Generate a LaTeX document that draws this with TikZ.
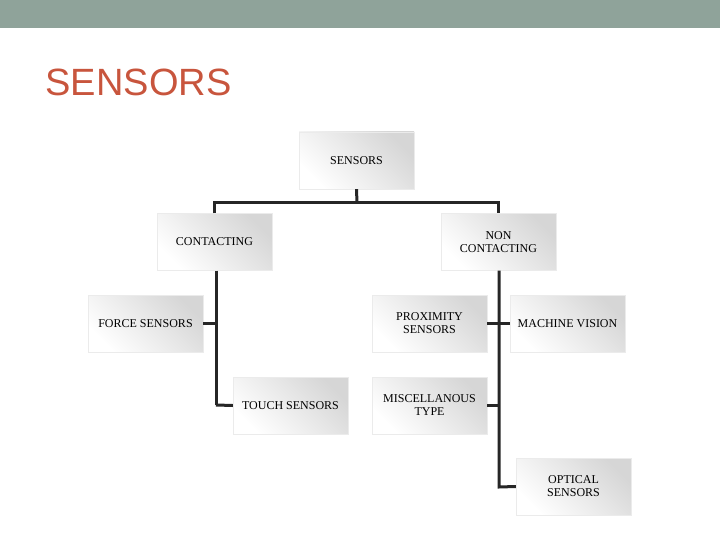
\documentclass[tikz,border=0pt]{standalone}
\usepackage{fontspec}
\setmainfont{Liberation Serif}
\newfontfamily\titlefont{Liberation Sans}
\definecolor{barc}{HTML}{8FA39A}
\definecolor{titc}{HTML}{C8553D}
\begin{document}
\begin{tikzpicture}[x=1pt,y=-1pt,
  bx/.style={minimum width=115pt,minimum height=57pt,inner sep=0pt,align=center,
    font=\fontsize{12}{13}\selectfont,top color=white,bottom color=black!16,shading angle=135,
    draw=black!8},
  ln/.style={line width=3pt,black!85}]
\useasboundingbox (0,0) rectangle (720,540);
\fill[barc] (0,0) rectangle (720,28);
\node[anchor=west,text=titc,font=\titlefont\fontsize{38}{40}\selectfont] (title) at (42,82) {SENSORS};
\node[bx] (root) at (356.5,160.5) {SENSORS};
\node[bx] (con) at (214.5,242) {CONTACTING};
\node[bx] (non) at (498.5,242) {NON\\CONTACTING};
\node[bx] (force) at (145.5,323.5) {FORCE SENSORS};
\node[bx] (prox) at (429.5,323.5) {PROXIMITY\\SENSORS};
\node[bx] (mach) at (567.5,323.5) {MACHINE VISION};
\node[bx] (touch) at (290.5,405.5) {TOUCH SENSORS};
\node[bx] (misc) at (429.5,405.5) {MISCELLANOUS\\TYPE};
\node[bx] (opt) at (573.5,486.5) {OPTICAL\\SENSORS};
\coordinate (j) at (357,203);
\draw[ln] (root.south) -- (j);
\draw[ln] (con.north) |- (j) -| (non.north);
\coordinate (ce) at (216,405);
\draw[ln] (con.south -| ce) -- (ce);
\draw[ln] (force.east) -- (force.east -| ce);
\draw[ln] (touch.west) -- (ce);
\coordinate (ne) at (499,487);
\draw[ln] (non.south -| ne) -- (ne) -- (opt.west);
\draw[ln] (prox.east) -- (mach.west);
\draw[ln] (misc.east) -- (misc.east -| ne);
\end{tikzpicture}
\end{document}
